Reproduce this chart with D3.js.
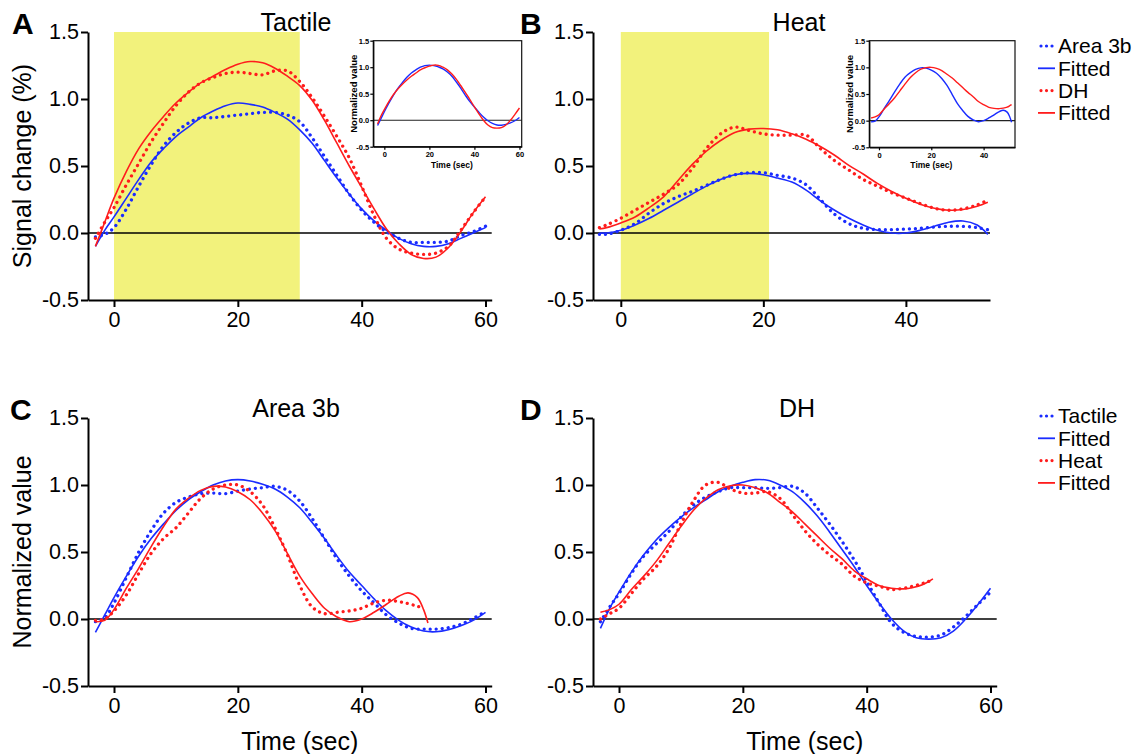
<!DOCTYPE html>
<html><head><meta charset="utf-8">
<script src="https://cdn.jsdelivr.net/npm/d3@7"></script>
<style>body{margin:0;background:#fff}</style>
</head><body><svg id="c" width="1139" height="754" xmlns="http://www.w3.org/2000/svg"></svg>
<script>
// ---------- DATA ----------
const yTicks = [-0.5, 0, 0.5, 1.0, 1.5];
const xTicksLong = [0, 20, 40, 60];
const xTicksShort = [0, 20, 40];
const panelTitles = ["Tactile", "Heat", "Area 3b", "DH"];
const panelLetters = ["A", "B", "C", "D"];
const legendTop = ["Area 3b", "Fitted", "DH", "Fitted"];
const legendBottom = ["Tactile", "Fitted", "Heat", "Fitted"];
const stimTactile = [0, 30];
const stimHeat = [0, 20.8];

// time grids (sec)
const tLong = [-3,-1.5,0,2,4,6,8,10,12,14,16,18,20,22,24,26,28,30,32,34,36,38,40,42,44,46,48,50,52,54,56,58,60];
const tB = [-3,-2,0,2,4,6,8,10,12,14,16,18,20,22,24,26,28,30,32,34,36,38,40,42,44,46,48,50,51.5];
const tHeat = [-3,-1.5,0,2,4,6,8,10,12,14,16,18,20,22,24,26,28,30,32,34,36,38,40,42,44,46,47.5,49,50,50.7];

// Panel A: tactile, signal change (%)
const aArea3b    = [-0.03,-0.01,0.04,0.18,0.35,0.51,0.65,0.75,0.82,0.86,0.86,0.87,0.88,0.89,0.90,0.90,0.88,0.83,0.71,0.57,0.43,0.29,0.17,0.08,0.01,-0.04,-0.07,-0.07,-0.07,-0.06,-0.02,0.01,0.05];
const aArea3bFit = [-0.10,0.02,0.12,0.26,0.40,0.53,0.63,0.72,0.79,0.86,0.91,0.95,0.97,0.96,0.94,0.90,0.85,0.77,0.67,0.54,0.41,0.29,0.18,0.09,0.02,-0.04,-0.08,-0.10,-0.10,-0.08,-0.04,0.00,0.04];
const aDH        = [-0.04,0.08,0.19,0.36,0.52,0.68,0.82,0.95,1.05,1.12,1.16,1.19,1.20,1.19,1.18,1.21,1.21,1.13,1.01,0.87,0.72,0.56,0.35,0.13,-0.04,-0.12,-0.15,-0.16,-0.15,-0.10,0.02,0.15,0.27];
const aDHFit     = [-0.10,0.08,0.26,0.46,0.63,0.76,0.87,0.97,1.05,1.12,1.17,1.22,1.26,1.28,1.27,1.23,1.17,1.10,0.99,0.84,0.67,0.50,0.34,0.18,0.03,-0.08,-0.16,-0.19,-0.18,-0.11,0.01,0.15,0.27];

// Panel B: heat, signal change (%)
const bArea3b    = [-0.01,-0.01,0.02,0.07,0.15,0.22,0.27,0.31,0.355,0.40,0.435,0.45,0.45,0.43,0.41,0.36,0.25,0.14,0.07,0.035,0.025,0.025,0.03,0.035,0.045,0.05,0.05,0.04,0.025];
const bArea3bFit = [0.0,0.0,0.02,0.06,0.11,0.17,0.23,0.29,0.35,0.40,0.435,0.445,0.435,0.41,0.38,0.32,0.24,0.17,0.11,0.06,0.02,0.0,0.0,0.02,0.05,0.08,0.09,0.06,-0.01];
const bDH        = [0.04,0.06,0.11,0.17,0.23,0.29,0.36,0.48,0.63,0.74,0.79,0.765,0.74,0.73,0.73,0.73,0.63,0.54,0.47,0.40,0.35,0.30,0.26,0.22,0.185,0.17,0.18,0.21,0.245];
const bDHFit     = [0.03,0.04,0.075,0.12,0.19,0.27,0.39,0.51,0.61,0.69,0.75,0.775,0.78,0.77,0.74,0.70,0.645,0.58,0.505,0.44,0.37,0.31,0.26,0.215,0.185,0.17,0.175,0.20,0.23];

// Panel C: Area 3b, normalized
const cTactile    = [-0.02,0.01,0.12,0.31,0.50,0.66,0.79,0.87,0.91,0.935,0.94,0.935,0.955,0.97,0.98,0.99,0.96,0.88,0.75,0.60,0.45,0.32,0.21,0.12,0.03,-0.03,-0.07,-0.075,-0.075,-0.065,-0.04,0.005,0.055];
const cTactileFit = [-0.10,0.03,0.16,0.32,0.47,0.60,0.71,0.81,0.89,0.95,1.00,1.03,1.04,1.03,1.005,0.97,0.91,0.83,0.72,0.60,0.47,0.35,0.25,0.15,0.06,-0.01,-0.06,-0.09,-0.095,-0.08,-0.05,-0.01,0.05];
const cHeat       = [-0.01,0.00,0.06,0.18,0.34,0.49,0.60,0.68,0.79,0.90,0.97,1.00,1.00,0.95,0.85,0.68,0.48,0.25,0.09,0.04,0.05,0.06,0.08,0.12,0.14,0.13,0.115,0.095,0.08,null];
const cHeatFit    = [-0.02,-0.01,0.07,0.23,0.38,0.54,0.69,0.82,0.90,0.96,0.99,0.985,0.95,0.89,0.79,0.66,0.49,0.32,0.19,0.08,0.015,-0.02,0.00,0.05,0.11,0.17,0.195,0.16,0.07,-0.03];

// Panel D: DH, normalized
const dTactile    = [-0.02,0.09,0.19,0.34,0.47,0.56,0.65,0.76,0.85,0.91,0.95,0.98,0.98,0.98,0.975,0.98,0.99,0.94,0.83,0.71,0.58,0.44,0.28,0.12,-0.03,-0.10,-0.13,-0.135,-0.12,-0.06,0.02,0.11,0.20];
const dTactileFit = [-0.07,0.08,0.20,0.35,0.48,0.59,0.68,0.76,0.83,0.89,0.95,0.99,1.02,1.04,1.035,1.00,0.95,0.87,0.77,0.65,0.52,0.39,0.25,0.12,0.00,-0.09,-0.14,-0.15,-0.14,-0.09,0.00,0.11,0.23];
const dHeat       = [0.0,0.04,0.08,0.19,0.30,0.39,0.52,0.71,0.88,1.00,1.02,0.97,0.94,0.94,0.95,0.90,0.78,0.66,0.56,0.48,0.41,0.32,0.27,0.245,0.22,0.23,0.245,0.265,0.28,0.31];
const dHeatFit    = [0.05,0.07,0.11,0.22,0.32,0.43,0.56,0.69,0.81,0.90,0.965,0.995,1.00,0.98,0.94,0.87,0.80,0.71,0.62,0.53,0.45,0.36,0.30,0.25,0.23,0.225,0.235,0.255,0.28,0.30];

// ---------- DRAWING ----------
const FONT = '"Liberation Sans", Arial, Helvetica, sans-serif';
const BLUE = "#1a2cff", RED = "#ff1c1c", YELLOW = "#f2f27c";
const svg = d3.select("#c");
const fmt = d => d.toFixed(1);

function pathFor(x, y, ts, vs) {
  const pts = ts.map((t, i) => [t, vs[i]]).filter(d => d[1] != null);
  return d3.line().x(d => x(d[0])).y(d => y(d[1])).curve(d3.curveCatmullRom.alpha(0.5))(pts);
}

function drawSeries(g, x, y, ts, vs, color, dotted, width) {
  const p = g.append("path").attr("d", pathFor(x, y, ts, vs))
    .attr("fill", "none").attr("stroke", color);
  if (dotted) p.attr("stroke-width", 3.3).attr("stroke-dasharray", "0.01 6").attr("stroke-linecap", "round");
  else p.attr("stroke-width", width || 1.6);
}

function styleAxis(ga, size, bold) {
  ga.select(".domain").attr("stroke", "#000").attr("stroke-width", bold ? 1.2 : 2);
  ga.selectAll(".tick line").attr("stroke", "#000").attr("stroke-width", bold ? 1.2 : 2);
  ga.selectAll(".tick text").attr("font-size", size).attr("font-family", FONT)
    .attr("fill", "#000").attr("font-weight", bold ? "bold" : "normal");
}

function panel(cfg) {
  const g = svg.append("g");
  const x = d3.scaleLinear().domain(cfg.xd).range(cfg.xr);
  const y = d3.scaleLinear().domain([-0.5, 1.5]).range(cfg.yr);
  if (cfg.stim) {
    g.append("rect").attr("x", x(cfg.stim[0])).attr("width", x(cfg.stim[1]) - x(cfg.stim[0]))
      .attr("y", y(1.5)).attr("height", y(-0.5) - y(1.5)).attr("fill", YELLOW);
  }
  g.append("line").attr("x1", cfg.xr[0]).attr("x2", cfg.xr[1]).attr("y1", y(0)).attr("y2", y(0))
    .attr("stroke", "#000").attr("stroke-width", 1.3);
  cfg.series.forEach(s => drawSeries(g, x, y, s.t, s.v, s.c, s.dot));
  const gy = g.append("g").attr("transform", `translate(${cfg.xr[0]},0)`)
    .call(d3.axisLeft(y).tickValues(yTicks).tickFormat(fmt).tickSize(7).tickPadding(2).tickSizeOuter(0));
  styleAxis(gy, 21.5, false);
  const gx = g.append("g").attr("transform", `translate(0,${cfg.yr[0]})`)
    .call(d3.axisBottom(x).tickValues(cfg.xt).tickFormat(d3.format("d")).tickSize(7).tickPadding(5).tickSizeOuter(0));
  styleAxis(gx, 21.5, false);
  g.append("text").attr("x", cfg.titleX).attr("y", cfg.yr[1] - 1).attr("text-anchor", "middle")
    .attr("font-family", FONT).attr("font-size", 25).text(cfg.title);
  g.append("text").attr("x", cfg.letterX).attr("y", cfg.yr[1] + 2).attr("font-family", FONT)
    .attr("font-weight", "bold").attr("font-size", 30).text(cfg.letter);
  if (cfg.ylabel) {
    g.append("text").attr("transform", `translate(31,${(cfg.yr[0] + cfg.yr[1]) / 2}) rotate(-90)`)
      .attr("text-anchor", "middle").attr("font-family", FONT).attr("font-size", 25).text(cfg.ylabel);
  }
  if (cfg.xlabel) {
    g.append("text").attr("x", (x(0) + x(cfg.xt[cfg.xt.length - 1])) / 2).attr("y", 750)
      .attr("text-anchor", "middle").attr("font-family", FONT).attr("font-size", 25).text(cfg.xlabel);
  }
}

function inset(cfg) {
  const g = svg.append("g");
  const x = d3.scaleLinear().domain(cfg.xd).range(cfg.xr);
  const y = d3.scaleLinear().domain([-0.5, 1.5]).range(cfg.yr);
  g.append("rect").attr("x", cfg.xr[0]).attr("y", cfg.yr[1]).attr("width", cfg.xr[1] - cfg.xr[0])
    .attr("height", cfg.yr[0] - cfg.yr[1]).attr("fill", "#fff");
  g.append("line").attr("x1", cfg.xr[0]).attr("x2", cfg.xr[1]).attr("y1", y(0)).attr("y2", y(0))
    .attr("stroke", "#222").attr("stroke-width", 1.1);
  cfg.series.forEach(s => drawSeries(g, x, y, s.t, s.v, s.c, false, 1.4));
  g.append("rect").attr("x", cfg.xr[0]).attr("y", cfg.yr[1]).attr("width", cfg.xr[1] - cfg.xr[0])
    .attr("height", cfg.yr[0] - cfg.yr[1]).attr("fill", "none").attr("stroke", "#111").attr("stroke-width", 1.2);
  const gy = g.append("g").attr("transform", `translate(${cfg.xr[0]},0)`)
    .call(d3.axisLeft(y).tickValues(yTicks).tickFormat(fmt).tickSize(3).tickPadding(1).tickSizeOuter(0));
  styleAxis(gy, 7.5, true);
  const gx = g.append("g").attr("transform", `translate(0,${cfg.yr[0]})`)
    .call(d3.axisBottom(x).tickValues(cfg.xt).tickFormat(d3.format("d")).tickSize(3).tickPadding(2).tickSizeOuter(0));
  styleAxis(gx, 7.5, true);
  g.append("text").attr("transform", `translate(${cfg.xr[0] - 16},${(cfg.yr[0] + cfg.yr[1]) / 2}) rotate(-90)`)
    .attr("text-anchor", "middle").attr("font-family", FONT).attr("font-weight", "bold").attr("font-size", 9.5)
    .text("Normalized value");
  g.append("text").attr("x", (x(0) + x(cfg.xt[cfg.xt.length - 1])) / 2).attr("y", cfg.yr[0] + 21)
    .attr("text-anchor", "middle").attr("font-family", FONT).attr("font-weight", "bold").attr("font-size", 8.5)
    .text("Time (sec)");
}

function legend(x0, y0, labels) {
  const g = svg.append("g");
  const colors = [BLUE, BLUE, RED, RED];
  labels.forEach((lab, i) => {
    const yy = y0 + i * 22.3;
    const ln = g.append("line").attr("y1", yy).attr("y2", yy).attr("stroke", colors[i]);
    if (i % 2 === 0) ln.attr("x1", 1041).attr("x2", 1054).attr("stroke-width", 3.2)
      .attr("stroke-dasharray", "0.01 5.5").attr("stroke-linecap", "round");
    else ln.attr("x1", 1038).attr("x2", 1055).attr("stroke-width", 1.8);
    g.append("text").attr("x", x0).attr("y", yy).attr("dy", "0.35em").attr("font-family", FONT)
      .attr("font-size", 21).text(lab);
  });
}

panel({ xd: [-4.2, 61], xr: [88, 491.7], yr: [300, 32], xt: xTicksLong, stim: stimTactile,
  title: panelTitles[0], titleX: 296, letter: panelLetters[0], letterX: 12, ylabel: "Signal change (%)",
  series: [
    { t: tLong, v: aArea3b, c: BLUE, dot: true }, { t: tLong, v: aArea3bFit, c: BLUE },
    { t: tLong, v: aDH, c: RED, dot: true }, { t: tLong, v: aDHFit, c: RED }] });
panel({ xd: [-3.9, 51.8], xr: [593, 990], yr: [300, 32], xt: xTicksShort, stim: stimHeat,
  title: panelTitles[1], titleX: 799, letter: panelLetters[1], letterX: 520,
  series: [
    { t: tB, v: bArea3b, c: BLUE, dot: true }, { t: tB, v: bArea3bFit, c: BLUE },
    { t: tB, v: bDH, c: RED, dot: true }, { t: tB, v: bDHFit, c: RED }] });
panel({ xd: [-4.2, 61], xr: [88, 491.7], yr: [686, 418], xt: xTicksLong,
  title: panelTitles[2], titleX: 296, letter: panelLetters[2], letterX: 10, ylabel: "Normalized value", xlabel: "Time (sec)",
  series: [
    { t: tLong, v: cTactile, c: BLUE, dot: true }, { t: tLong, v: cTactileFit, c: BLUE },
    { t: tHeat, v: cHeat, c: RED, dot: true }, { t: tHeat, v: cHeatFit, c: RED }] });
panel({ xd: [-4.2, 61], xr: [593, 996.7], yr: [686, 418], xt: xTicksLong,
  title: panelTitles[3], titleX: 797, letter: panelLetters[3], letterX: 520, xlabel: "Time (sec)",
  series: [
    { t: tLong, v: dTactile, c: BLUE, dot: true }, { t: tLong, v: dTactileFit, c: BLUE },
    { t: tHeat, v: dHeat, c: RED, dot: true }, { t: tHeat, v: dHeatFit, c: RED }] });

inset({ xd: [-4.9, 61], xr: [373.3, 521.7], yr: [146.7, 40.7], xt: xTicksLong,
  series: [{ t: tLong, v: cTactileFit, c: BLUE }, { t: tLong, v: dTactileFit, c: RED }] });
inset({ xd: [-3.7, 52], xr: [869.3, 1015], yr: [147.3, 40.7], xt: xTicksShort,
  series: [{ t: tHeat, v: cHeatFit, c: BLUE }, { t: tHeat, v: dHeatFit, c: RED }] });

legend(1058, 46, legendTop);
legend(1058, 416, legendBottom);
</script></body></html>
